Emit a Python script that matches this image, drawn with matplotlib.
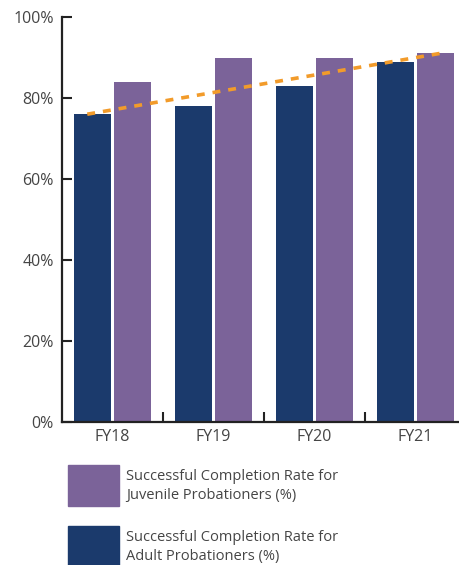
import matplotlib
matplotlib.use("Agg")
import matplotlib.pyplot as plt
from matplotlib.patches import Rectangle
import numpy as np

categories = ["FY18", "FY19", "FY20", "FY21"]
adult = [76, 78, 83, 89]
juvenile = [84, 90, 90, 91]
trend_start = 76
trend_end = 91
y_ticks = [0, 20, 40, 60, 80, 100]
y_labels = ["0%", "20%", "40%", "60%", "80%", "100%"]
legend_labels = ["Successful Completion Rate for\nJuvenile Probationers (%)",
                 "Successful Completion Rate for\nAdult Probationers (%)"]

navy = "#1B3A6C"
purple = "#7B6399"
orange = "#F29B2A"
text_col = "#454545"

plt.rcParams['font.family'] = ['Open Sans', 'DejaVu Sans']

W, H = 460, 565
fig = plt.figure(figsize=(W / 100, H / 100), dpi=100)
ax = fig.add_axes([62 / W, (H - 422) / H, (466 - 62) / W, (422 - 17) / H])

x = np.arange(len(categories))
bw = 0.366
off = 0.198
ax.bar(x - off, adult, width=bw, color=navy, zorder=2)
ax.bar(x + off, juvenile, width=bw, color=purple, zorder=2)

ax.plot([x[0] - 0.25, x[-1] + 0.24], [trend_start, trend_end], color=orange,
        lw=2.6, dashes=(2.2, 2.2), zorder=3)

ax.set_xlim(-0.5, 3.5)
ax.set_ylim(0, 100)
ax.set_yticks(y_ticks)
ax.set_yticklabels(y_labels, fontsize=11.5, color=text_col)
ax.set_xticks(x)
ax.set_xticklabels(categories, fontsize=11.5, color=text_col)
ax.set_xticks([0.5, 1.5, 2.5], minor=True)
ax.tick_params(axis='x', which='major', length=0, pad=5)
ax.tick_params(axis='x', which='minor', direction='in', length=7, width=1.5, color='#222222')
ax.tick_params(axis='y', direction='in', length=7.5, width=1.5, color='#222222', pad=6)
for s in ['top', 'right']:
    ax.spines[s].set_visible(False)
for s in ['left', 'bottom']:
    ax.spines[s].set_linewidth(1.6)
    ax.spines[s].set_color('#222222')

# legend
leg_colors = [purple, navy]
leg_y = [465, 526]
for c, yt, lab in zip(leg_colors, leg_y, legend_labels):
    fig.patches.append(Rectangle((68 / W, (H - yt - 41) / H), 51 / W, 41 / H,
                                 transform=fig.transFigure, color=c))
    fig.text(126 / W, (H - yt - 21) / H, lab, fontsize=10.5, color=text_col,
             va='center', ha='left', linespacing=1.35)

fig.savefig("out.png", dpi=100)
